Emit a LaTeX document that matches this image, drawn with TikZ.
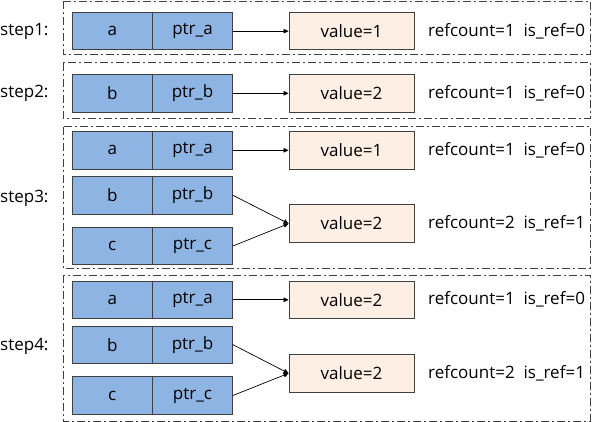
\documentclass[tikz,border=0pt]{standalone}
\usepackage{fontspec}
\setmainfont{Open Sans}
\usetikzlibrary{arrows.meta}
\definecolor{cellblue}{HTML}{8EB4E3}
\definecolor{valfill}{HTML}{FDEFE3}
\definecolor{edgegray}{HTML}{404040}
\begin{document}
\begin{tikzpicture}[x=1pt,y=-1pt, font=\fontsize{17}{20}\selectfont,
 cell/.style={draw=edgegray, fill=cellblue, minimum width=80pt, minimum height=37.5pt, inner sep=0pt, line width=0.8pt},
 valbox/.style={draw=edgegray, fill=valfill, minimum width=125pt, minimum height=37.5pt, inner sep=0pt, line width=0.8pt},
 frame/.style={draw=edgegray, dash pattern=on 8pt off 3pt on 2pt off 3pt, line width=0.8pt},
 ptr/.style={-{Triangle[length=5pt,width=4.5pt]}, line width=0.7pt, black},
 info/.style={anchor=west, inner sep=0pt},
 lbl/.style={anchor=west, inner sep=0pt}]
\useasboundingbox (0,0) rectangle (592,422);
% frames
\draw[frame] (63,1) rectangle (590,54);
\draw[frame] (63,62.7) rectangle (590,118);
\draw[frame] (63,126.7) rectangle (590,268);
\draw[frame] (63,275) rectangle (590,421);
% step 1
\node[lbl] (s1) at (0,31.15) {step1:};
\node[cell] (a1) at (112.25,31.15) {a};
\node[cell] (pa1) at (192.5,31.15) {ptr\_a};
\node[valbox] (v11) at (351.5,31.15) {value=1};
\node[info] (i11) at (428,31.15) {refcount=1\ \ is\_ref=0};
\draw[ptr] (pa1.east) -- (v11.west);
% step 2
\node[lbl] (s2) at (0,93.3) {step2:};
\node[cell] (b2) at (112.25,93.3) {b};
\node[cell] (pb2) at (192.5,93.3) {ptr\_b};
\node[valbox] (v21) at (351.5,93.3) {value=2};
\node[info] (i21) at (428,93.3) {refcount=1\ \ is\_ref=0};
\draw[ptr] (pb2.east) -- (v21.west);
% step 3
\node[lbl] (s3) at (0,198) {step3:};
\node[cell] (a3) at (112.25,150.3) {a};
\node[cell] (pa3) at (192.5,150.3) {ptr\_a};
\node[cell] (b3) at (112.25,195.3) {b};
\node[cell] (pb3) at (192.5,195.3) {ptr\_b};
\node[cell] (c3) at (112.25,246) {c};
\node[cell] (pc3) at (192.5,246) {ptr\_c};
\node[valbox] (v31) at (351.5,150.3) {value=1};
\node[valbox] (v32) at (351.5,223.6) {value=2};
\node[info] (i31) at (428,150.3) {refcount=1\ \ is\_ref=0};
\node[info] (i32) at (428,223.6) {refcount=2\ \ is\_ref=1};
\draw[ptr] (pa3.east) -- (v31.west);
\draw[ptr] (pb3.east) -- (v32.west);
\draw[ptr] (pc3.east) -- (v32.west);
% step 4
\node[lbl] (s4) at (0,346) {step4:};
\node[cell] (a4) at (112.25,299.8) {a};
\node[cell] (pa4) at (192.5,299.8) {ptr\_a};
\node[cell] (b4) at (112.25,344.7) {b};
\node[cell] (pb4) at (192.5,344.7) {ptr\_b};
\node[cell] (c4) at (112.25,395.5) {c};
\node[cell] (pc4) at (192.5,395.5) {ptr\_c};
\node[valbox] (v41) at (351.5,299.8) {value=2};
\node[valbox] (v42) at (351.5,373.3) {value=2};
\node[info] (i41) at (428,299.8) {refcount=1\ \ is\_ref=0};
\node[info] (i42) at (428,373.3) {refcount=2\ \ is\_ref=1};
\draw[ptr] (pa4.east) -- (v41.west);
\draw[ptr] (pb4.east) -- (v42.west);
\draw[ptr] (pc4.east) -- (v42.west);
\end{tikzpicture}
\end{document}
